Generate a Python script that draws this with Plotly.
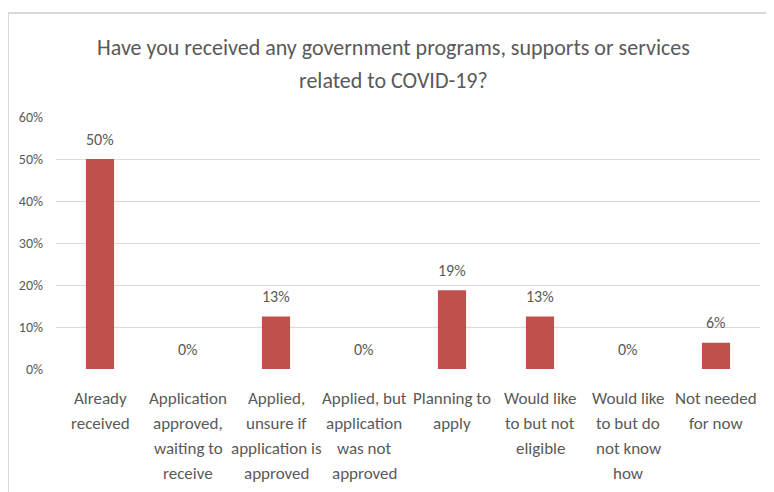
import plotly.graph_objects as go

categories = [
    "Already\nreceived",
    "Application\napproved,\nwaiting to\nreceive",
    "Applied,\nunsure if\napplication is\napproved",
    "Applied, but\napplication\nwas not\napproved",
    "Planning to\napply",
    "Would like\nto but not\neligible",
    "Would like\nto but do\nnot know\nhow",
    "Not needed\nfor now",
]
values = [0.50, 0.0, 0.125, 0.0, 0.1875, 0.125, 0.0, 0.0625]
value_labels = ["50%", "0%", "13%", "0%", "19%", "13%", "0%", "6%"]
title_lines = [
    "Have you received any government programs, supports or services",
    "related to COVID-19?",
]
y_ticks = [0, 0.1, 0.2, 0.3, 0.4, 0.5, 0.6]

FONT = "Carlito, Liberation Sans, Arial, sans-serif"
GRAY = "#595959"
BAR = "#c0504d"
FRAME = "#d9d9d9"

# page body has an 8px margin: work in reference-pixel coords, shift by OFF
OFF = 8
W, H = 774 - OFF, 492 - OFF
PLOT_L, PLOT_R, PLOT_T, PLOT_B = 56, 760, 117, 369  # reference pixels
L, R = PLOT_L - OFF, W - (PLOT_R - OFF)
T, B = PLOT_T - OFF, H - (PLOT_B - OFF)
pw, ph = W - L - R, H - T - B


def px_x(rx):
    return (rx - OFF - L) / pw


def px_y(ry):
    return (H - B - (ry - OFF)) / ph


fig = go.Figure()
fig.add_trace(go.Bar(
    x=list(range(len(categories))),
    y=values,
    marker=dict(color=BAR, line=dict(width=0)),
    width=0.32,
    hoverinfo="skip",
))

# data labels
for i, (v, t) in enumerate(zip(values, value_labels)):
    fig.add_annotation(x=i, y=v, xref="x", yref="y", text=t, showarrow=False,
                       yshift=20, yanchor="middle",
                       font=dict(family=FONT, size=16, color=GRAY))

# category labels, one line at a time (Excel-like line spacing)
for i, cat in enumerate(categories):
    for j, line in enumerate(cat.split("\n")):
        fig.add_annotation(x=i, y=0, xref="x", yref="paper", text=line,
                           showarrow=False, yanchor="middle", xanchor="center",
                           yshift=-(29 + 25 * j),
                           font=dict(family=FONT, size=17, color=GRAY))

# title
for line, ry in zip(title_lines, [47, 80]):
    fig.add_annotation(x=px_x(393), y=px_y(ry), xref="paper", yref="paper",
                       text=line, showarrow=False, xanchor="center",
                       yanchor="middle",
                       font=dict(family=FONT, size=22, color=GRAY))

# outer frame (top and left edges visible in the reference)
fig.add_shape(type="line", xref="paper", yref="paper",
              x0=px_x(8), x1=px_x(774), y0=px_y(13), y1=px_y(13),
              line=dict(color=FRAME, width=2))
fig.add_shape(type="line", xref="paper", yref="paper",
              x0=px_x(8), x1=px_x(8), y0=px_y(13), y1=px_y(492),
              line=dict(color=FRAME, width=2))

fig.update_layout(
    width=W, height=H,
    margin=dict(l=L, r=R, t=T, b=B, pad=0),
    paper_bgcolor="white", plot_bgcolor="white",
    showlegend=False,
    font=dict(family=FONT, color=GRAY),
    xaxis=dict(
        range=[-0.5, len(categories) - 0.5],
        showgrid=False, zeroline=False, showline=False, ticks="",
        showticklabels=False,
    ),
    yaxis=dict(
        range=[0, 0.6], tickvals=y_ticks, tickformat=".0%",
        showgrid=True, gridcolor=FRAME, gridwidth=1,
        zeroline=False, showline=False, ticks="",
        tickfont=dict(family=FONT, size=14, color=GRAY),
        ticklabelstandoff=12,
    ),
)

fig.write_html("out.html")
